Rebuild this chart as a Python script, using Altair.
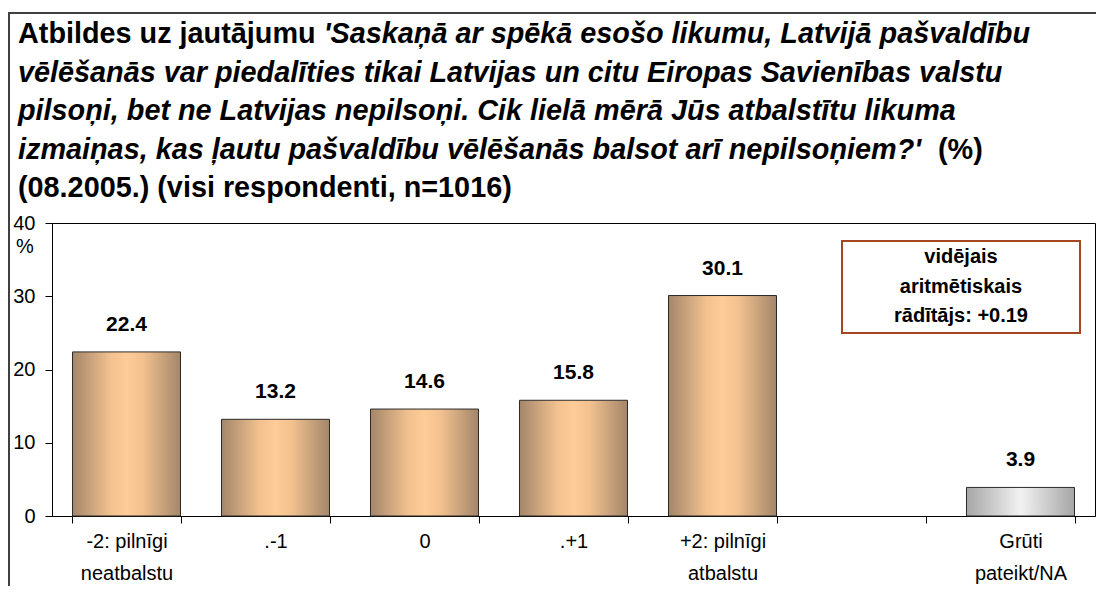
import altair as alt
import pandas as pd

# ---- data ----
categories = ["-2: pilnīgi|neatbalstu", ".-1", "0", ".+1", "+2: pilnīgi|atbalstu", " ", "Grūti|pateikt/NA"]
values = [22.4, 13.2, 14.6, 15.8, 30.1, None, 3.9]
groups = ["main", "main", "main", "main", "main", "none", "na"]

title_lines = [
    "Atbildes uz jautājumu ",
    "'Saskaņā ar spēkā esošo likumu, Latvijā pašvaldību",
    "vēlēšanās var piedalīties tikai Latvijas un citu Eiropas Savienības valstu",
    "pilsoņi, bet ne Latvijas nepilsoņi. Cik lielā mērā Jūs atbalstītu likuma",
    "izmaiņas, kas ļautu pašvaldību vēlēšanās balsot arī nepilsoņiem?'",
    "(%)",
    "(08.2005.) (visi respondenti, n=1016)",
]
box_lines = ["vidējais", "aritmētiskais", "rādītājs: +0.19"]

df = pd.DataFrame({"cat": categories, "val": values, "grp": groups})
df = df[df["grp"] != "none"]

FONT = "Liberation Sans"
W, H = 1043, 293

tan = alt.Gradient(
    gradient="linear", x1=0, x2=1, y1=0, y2=0,
    stops=[alt.GradientStop(color="#a3866a", offset=0),
           alt.GradientStop(color="#f2c18f", offset=0.35),
           alt.GradientStop(color="#fdcc98", offset=0.5),
           alt.GradientStop(color="#f2c18f", offset=0.65),
           alt.GradientStop(color="#a3866a", offset=1)])
grey = alt.Gradient(
    gradient="linear", x1=0, x2=1, y1=0, y2=0,
    stops=[alt.GradientStop(color="#a6a6a6", offset=0),
           alt.GradientStop(color="#f2f2f2", offset=0.5),
           alt.GradientStop(color="#a6a6a6", offset=1)])

xenc = alt.X("cat:N",
             scale=alt.Scale(domain=categories, paddingInner=0.275, paddingOuter=0.1375),
             axis=alt.Axis(title=None, labelAngle=0, tickBand="extent", tickSize=7,
                           labelExpr="split(datum.label, '|')", labelLineHeight=32,
                           labelPadding=8, labelBaseline="top", labelFontSize=20))
yenc = alt.Y("val:Q",
             scale=alt.Scale(domain=[0, 40]),
             axis=alt.Axis(title=None, values=[0, 10, 20, 30, 40], tickSize=7,
                           labelPadding=10, grid=False, labelFlush=False, labelFontSize=20))

base = alt.Chart(df)
bars_main = base.transform_filter("datum.grp == 'main'").mark_bar(
    fill=tan, stroke="#2a2a2a", strokeWidth=1).encode(x=xenc, y=yenc)
bars_na = base.transform_filter("datum.grp == 'na'").mark_bar(
    fill=grey, stroke="#2a2a2a", strokeWidth=1).encode(x=xenc, y=yenc)
labels = base.mark_text(font=FONT, fontSize=21, fontWeight="bold", dy=-27,
                        baseline="middle", color="black").encode(
    x=xenc, y=yenc, text=alt.Text("val:Q", format=".1f"))


def txt(s, x, y, size=28.8, italic=False, bold=True, align="left", baseline="alphabetic"):
    return alt.Chart(pd.DataFrame({"t": [s]})).mark_text(
        font=FONT, fontSize=size, fontWeight="bold" if bold else "normal",
        fontStyle="italic" if italic else "normal", align=align, baseline=baseline,
        color="black").encode(text="t:N", x=alt.value(x), y=alt.value(y))


X0 = -34
title_layers = [
    txt(title_lines[0], X0, -180),
    txt(title_lines[1], 271.7, -180, italic=True),
    txt(title_lines[2], X0, -141.5, italic=True),
    txt(title_lines[3], X0, -103, italic=True),
    txt(title_lines[4], X0, -64.5, italic=True),
    txt(title_lines[5], 886, -64.5),
    txt(title_lines[6], X0, -26.5),
]

pct = txt("%", -27, 24, size=20, bold=False, align="center", baseline="middle")

one = pd.DataFrame({"a": [0]})
box = alt.Chart(one).mark_rect(fill="white", stroke="#a4461f", strokeWidth=2).encode(
    x=alt.value(790), x2=alt.value(1028), y=alt.value(18), y2=alt.value(110))
box_text = [txt(s, 909, yy, size=20, align="center", baseline="middle")
            for s, yy in zip(box_lines, [34, 64, 93])]

frame_left = alt.Chart(one).mark_rule(color="#404040", strokeWidth=2).encode(
    x=alt.value(-43), y=alt.value(-210), y2=alt.value(H + 80))
frame_top = alt.Chart(one).mark_rule(color="#404040", strokeWidth=2).encode(
    x=alt.value(-44), x2=alt.value(W + 2), y=alt.value(-210))

chart = alt.layer(
    frame_left, frame_top, bars_main, bars_na, labels, box, *box_text, pct, *title_layers
).properties(
    width=W, height=H,
    autosize=alt.AutoSizeParams(type="none"),
    padding={"left": 44, "top": 215, "right": 1, "bottom": 70},
).configure_view(
    stroke="black", strokeWidth=1
).configure_axis(
    domainColor="black", tickColor="black", labelColor="black", labelFont=FONT,
    domainWidth=1, tickWidth=1
)

chart.save("out.html", embed_options={"renderer": "svg", "actions": False})
